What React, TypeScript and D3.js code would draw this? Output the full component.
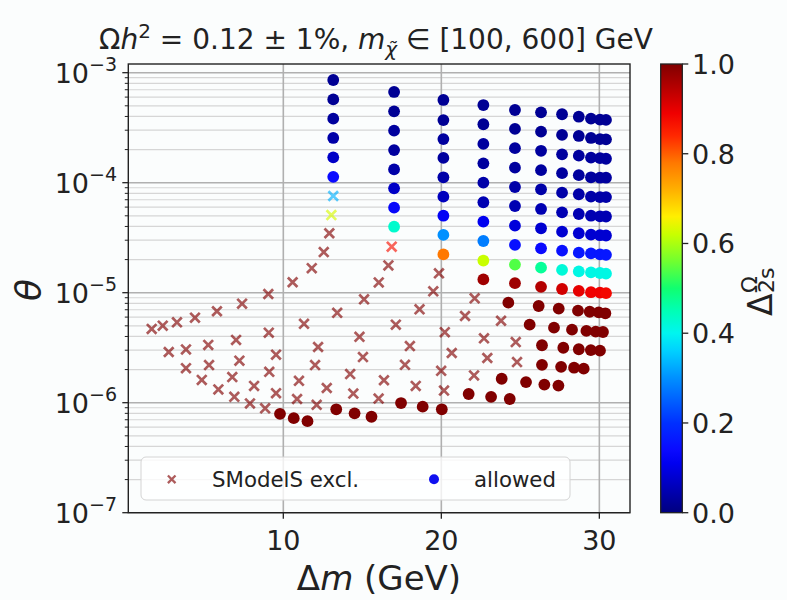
import React from 'react';
import * as d3 from 'd3';

// ---- tick values ----
const xTicks = [10, 20, 30];
const yTickExps = [-3, -4, -5, -6, -7];
const cbTicks = [0, 0.2, 0.4, 0.6, 0.8, 1.0];

// ---- colormap (jet-like) ----
const cmapPos = [0, 0.11, 0.14, 0.2, 0.3, 0.36, 0.4, 0.45, 0.5, 0.56, 0.62, 0.66, 0.72, 0.78, 0.84, 0.89, 1];
const cmapCol = ['#00007f', '#0000f0', '#0a0aff', '#0030ff', '#0090ff', '#00d0ff', '#00f5f0', '#00ffb5', '#10ff70', '#70ff30', '#c8ff00', '#ffef00', '#ffb000', '#ff7800', '#ff2800', '#f00000', '#800000'];

// ---- SModelS excluded points: [Δm (GeV), θ, Δ2s] ----
const excluded: [number, number, number][] = [
  [1.67, 4.68e-6, 1], [2.37, 5.01e-6, 1], [3.27, 5.38e-6, 1], [4.41, 5.93e-6, 1], [5.80, 6.78e-6, 1], [7.39, 7.94e-6, 1], [9.05, 9.73e-6, 1], [10.59, 1.245e-5, 1], [11.80, 1.67e-5, 1], [12.56, 2.34e-5, 1], [12.91, 3.47e-5, 1], [13.04, 5.08e-5, 0.63], [13.16, 7.57e-5, 0.33],
  [2.75, 2.89e-6, 1], [3.84, 3.05e-6, 1], [5.25, 3.35e-6, 1], [7.01, 3.72e-6, 1], [9.08, 4.33e-6, 1], [11.31, 5.21e-6, 1], [13.41, 6.56e-6, 1], [15.11, 8.71e-6, 1], [16.04, 1.24e-5, 1], [16.65, 1.77e-5, 1], [16.86, 2.62e-5, 0.87],
  [3.84, 2.06e-6, 1], [5.30, 2.20e-6, 1], [7.22, 2.41e-6, 1], [9.54, 2.73e-6, 1], [12.20, 3.21e-6, 1], [14.82, 3.97e-6, 1], [17.12, 5.12e-6, 1], [18.62, 7.06e-6, 1], [19.49, 1.03e-5, 1], [19.85, 1.50e-5, 1],
  [4.84, 1.61e-6, 1], [6.77, 1.71e-6, 1], [9.11, 1.91e-6, 1], [12.01, 2.20e-6, 1], [15.04, 2.60e-6, 1], [18.01, 3.27e-6, 1], [20.22, 4.38e-6, 1], [21.50, 6.14e-6, 1], [22.11, 8.89e-6, 1],
  [5.89, 1.32e-6, 1], [8.15, 1.42e-6, 1], [10.99, 1.58e-6, 1], [14.23, 1.82e-6, 1], [17.70, 2.21e-6, 1], [20.66, 2.83e-6, 1], [23.78, 5.56e-6, 1],
  [6.90, 1.13e-6, 1], [9.54, 1.22e-6, 1], [12.75, 1.36e-6, 1], [16.37, 1.60e-6, 1], [19.99, 1.95e-6, 1], [22.70, 3.85e-6, 1],
  [7.89, 9.84e-7, 1], [10.87, 1.08e-6, 1], [14.43, 1.21e-6, 1], [18.38, 1.42e-6, 1], [22.91, 2.55e-6, 1], [24.71, 3.56e-6, 1],
  [8.85, 8.89e-7, 1], [12.11, 9.57e-7, 1], [16.03, 1.09e-6, 1], [20.17, 1.29e-6, 1], [22.07, 1.77e-6, 1], [24.79, 2.34e-6, 1],
];

// ---- allowed points: [Δm (GeV), θ, Δ2s] ----
const allowed: [number, number, number][] = [
  [13.16, 8.58e-4, 0.02], [13.16, 5.72e-4, 0.02], [13.16, 3.82e-4, 0.03], [13.16, 2.55e-4, 0.04], [13.16, 1.70e-4, 0.07], [13.16, 1.13e-4, 0.14],
  [17.01, 6.68e-4, 0.02], [17.01, 4.45e-4, 0.02], [17.01, 2.97e-4, 0.03], [17.01, 1.98e-4, 0.03], [17.01, 1.32e-4, 0.04], [17.01, 8.89e-5, 0.07], [17.01, 5.93e-5, 0.13], [17.01, 3.98e-5, 0.43],
  [20.13, 5.65e-4, 0.02], [20.13, 3.71e-4, 0.02], [20.13, 2.49e-4, 0.03], [20.13, 1.68e-4, 0.03], [20.13, 1.12e-4, 0.04], [20.13, 7.46e-5, 0.06], [20.13, 5.01e-5, 0.12], [20.13, 3.35e-5, 0.30], [20.13, 2.23e-5, 0.78],
  [22.66, 5.08e-4, 0.02], [22.66, 3.40e-4, 0.02], [22.66, 2.25e-4, 0.03], [22.66, 1.50e-4, 0.03], [22.66, 1.00e-4, 0.04], [22.66, 6.64e-5, 0.05], [22.66, 4.42e-5, 0.11], [22.66, 2.95e-5, 0.28], [22.66, 1.96e-5, 0.62], [22.66, 1.32e-5, 0.97],
  [24.66, 4.58e-4, 0.02], [24.66, 3.08e-4, 0.02], [24.66, 2.06e-4, 0.03], [24.66, 1.37e-4, 0.03], [24.66, 9.14e-5, 0.04], [24.66, 6.14e-5, 0.05], [24.66, 4.07e-5, 0.09], [24.66, 2.72e-5, 0.15], [24.66, 1.80e-5, 0.54], [24.66, 1.22e-5, 0.97],
  [26.31, 4.36e-4, 0.02], [26.31, 2.91e-4, 0.02], [26.31, 1.95e-4, 0.03], [26.31, 1.30e-4, 0.03], [26.31, 8.71e-5, 0.04], [26.31, 5.77e-5, 0.05], [26.31, 3.85e-5, 0.08], [26.31, 2.53e-5, 0.14], [26.31, 1.69e-5, 0.47], [26.31, 1.13e-5, 0.95],
  [27.64, 4.19e-4, 0.02], [27.64, 2.72e-4, 0.02], [27.64, 1.81e-4, 0.03], [27.64, 1.22e-4, 0.03], [27.64, 8.11e-5, 0.04], [27.64, 5.38e-5, 0.05], [27.64, 3.59e-5, 0.08], [27.64, 2.41e-5, 0.15], [27.64, 1.61e-5, 0.42], [27.64, 1.08e-5, 0.92],
  [28.70, 3.98e-4, 0.02], [28.70, 2.66e-4, 0.02], [28.70, 1.76e-4, 0.03], [28.70, 1.17e-4, 0.03], [28.70, 7.85e-5, 0.04], [28.70, 5.19e-5, 0.05], [28.70, 3.47e-5, 0.08], [28.70, 2.31e-5, 0.16], [28.70, 1.56e-5, 0.41], [28.70, 1.04e-5, 0.90],
  [29.47, 3.82e-4, 0.02], [29.47, 2.55e-4, 0.02], [29.47, 1.69e-4, 0.03], [29.47, 1.12e-4, 0.03], [29.47, 7.46e-5, 0.04], [29.47, 5.01e-5, 0.05], [29.47, 3.37e-5, 0.08], [29.47, 2.28e-5, 0.16], [29.47, 1.53e-5, 0.41], [29.47, 1.01e-5, 0.89],
  [30.04, 3.75e-4, 0.02], [30.04, 2.49e-4, 0.02], [30.04, 1.67e-4, 0.03], [30.04, 1.11e-4, 0.03], [30.04, 7.40e-5, 0.04], [30.04, 4.95e-5, 0.05], [30.04, 3.33e-5, 0.08], [30.04, 2.23e-5, 0.16], [30.04, 1.51e-5, 0.41], [30.04, 1.00e-5, 0.89],
  [30.42, 3.72e-4, 0.02], [30.42, 2.48e-4, 0.02], [30.42, 1.65e-4, 0.03], [30.42, 1.11e-4, 0.03], [30.42, 7.40e-5, 0.04], [30.42, 4.93e-5, 0.05], [30.42, 3.31e-5, 0.08], [30.42, 2.21e-5, 0.16], [30.42, 1.49e-5, 0.41], [30.42, 9.90e-6, 0.88],
  [24.24, 8.11e-6, 1], [26.16, 7.57e-6, 1], [27.43, 7.16e-6, 1], [28.65, 6.86e-6, 1], [29.39, 6.71e-6, 1], [29.96, 6.63e-6, 1], [30.38, 6.50e-6, 1],
  [25.59, 5.12e-6, 1], [27.13, 4.81e-6, 1], [28.27, 4.61e-6, 1], [29.18, 4.49e-6, 1], [29.77, 4.42e-6, 1], [30.23, 4.39e-6, 1],
  [26.37, 3.33e-6, 1], [27.72, 3.16e-6, 1], [28.70, 3.06e-6, 1], [29.46, 3.01e-6, 1], [30.04, 2.97e-6, 1],
  [26.37, 2.21e-6, 1], [27.58, 2.12e-6, 1], [28.40, 2.08e-6, 1], [29.01, 2.04e-6, 1],
  [23.82, 1.65e-6, 1], [25.36, 1.54e-6, 1], [26.52, 1.46e-6, 1], [27.41, 1.43e-6, 1],
  [21.73, 1.20e-6, 1], [23.15, 1.13e-6, 1], [24.33, 1.08e-6, 1],
  [17.45, 9.93e-7, 1], [18.82, 9.20e-7, 1], [20.03, 8.71e-7, 1],
  [15.58, 7.45e-7, 1], [14.51, 8.01e-7, 1], [13.35, 8.71e-7, 1], [11.53, 6.79e-7, 1], [10.66, 7.23e-7, 1], [9.79, 7.92e-7, 1],
];

const legendLabels = ['SModelS excl.', 'allowed'];

const FONT = "'DejaVu Sans', sans-serif";

export default function App() {
  const W = 787, H = 600;
  const left = 128.3, right = 630, top = 64, bottom = 512.7;
  const x = d3.scaleLinear().domain([0.19, 31.94]).range([left, right]);
  const y = d3.scaleLog().domain([1e-7, Math.pow(10, -2.921)]).range([bottom, top]);
  const cmap = d3.scaleLinear<string>().domain(cmapPos).range(cmapCol).interpolate(d3.interpolateRgb).clamp(true);

  const cbL = 660.7, cbR = 682.3;
  const cbY = d3.scaleLinear().domain([0, 1]).range([bottom, top]);

  // minor log ticks
  const minor: number[] = [];
  for (let e = -7; e <= -3; e++) {
    for (let k = 2; k <= 9; k++) {
      const v = k * Math.pow(10, e);
      if (y(v) >= top) minor.push(v);
    }
  }

  const crossPath = (s: number) => `M${-s},${-s}L${s},${s}M${-s},${s}L${s},${-s}`;

  return (
    <svg width={W} height={H} style={{ position: 'absolute', left: 0, top: 0, background: '#fbfdfd' }} fontFamily={FONT}>
      <defs>
        <linearGradient id="cbgrad" x1="0" y1="1" x2="0" y2="0">
          {cmapPos.map((p, i) => (
            <stop key={i} offset={p} stopColor={cmapCol[i]} />
          ))}
        </linearGradient>
        <clipPath id="plotclip">
          <rect x={left} y={top} width={right - left} height={bottom - top} />
        </clipPath>
      </defs>
      <rect x={0} y={0} width={W} height={H} fill="#fbfdfd" />

      {/* grid */}
      <g>
        {minor.map((v, i) => (
          <line key={'mg' + i} x1={left} x2={right} y1={y(v)} y2={y(v)} stroke="#d6d6d6" strokeWidth={1.2} />
        ))}
        {yTickExps.map((e) => (
          <line key={'Mg' + e} x1={left} x2={right} y1={y(Math.pow(10, e))} y2={y(Math.pow(10, e))} stroke="#b0b0b0" strokeWidth={1.6} />
        ))}
        {xTicks.map((t) => (
          <line key={'xg' + t} x1={x(t)} x2={x(t)} y1={top} y2={bottom} stroke="#b0b0b0" strokeWidth={1.6} />
        ))}
      </g>

      {/* points */}
      <g clipPath="url(#plotclip)">
        {excluded.map((d, i) => (
          <path key={'ex' + i} d={crossPath(4.8)} transform={`translate(${x(d[0])},${y(d[1])})`}
            stroke={cmap(d[2])} strokeOpacity={0.64} strokeWidth={2.7} fill="none" />
        ))}
        {allowed.map((d, i) => (
          <circle key={'al' + i} cx={x(d[0])} cy={y(d[1])} r={5.9} fill={cmap(d[2])} />
        ))}
      </g>

      {/* legend */}
      <g>
        <rect x={141} y={457} width={429} height={43} rx={5} fill="#ffffff" fillOpacity={0.8} stroke="#d4d4d4" strokeWidth={1} />
        <path d={crossPath(3.8)} transform="translate(171.7,479.3)" stroke={cmap(1)} strokeOpacity={0.64} strokeWidth={2.3} fill="none" />
        <text x={212} y={486.5} fontSize={21.3} fill="#222">{legendLabels[0]}</text>
        <circle cx={434} cy={479.3} r={5} fill="#1010f0" />
        <text x={474} y={486.5} fontSize={21.3} fill="#222">{legendLabels[1]}</text>
      </g>

      {/* spines */}
      <rect x={left} y={top} width={right - left} height={bottom - top} fill="none" stroke="#222" strokeWidth={1.4} />

      {/* y ticks */}
      <g>
        {minor.map((v, i) => (
          <line key={'mt' + i} x1={left - 3.5} x2={left} y1={y(v)} y2={y(v)} stroke="#222" strokeWidth={1} />
        ))}
        {yTickExps.map((e) => (
          <g key={'yt' + e}>
            <line x1={left - 6} x2={left} y1={y(Math.pow(10, e))} y2={y(Math.pow(10, e))} stroke="#222" strokeWidth={1.3} />
            <text x={117} y={y(Math.pow(10, e)) + 10} textAnchor="end" fontSize={27} fill="#222">
              <tspan>10</tspan>
              <tspan dy={-12} fontSize={19}>{'\u2212' + Math.abs(e)}</tspan>
            </text>
          </g>
        ))}
      </g>

      {/* x ticks */}
      <g>
        {xTicks.map((t) => (
          <g key={'xt' + t}>
            <line x1={x(t)} x2={x(t)} y1={bottom} y2={bottom + 6} stroke="#222" strokeWidth={1.3} />
            <text x={x(t)} y={550} textAnchor="middle" fontSize={27} fill="#222">{t}</text>
          </g>
        ))}
      </g>

      {/* axis labels */}
      <text x={379} y={590} textAnchor="middle" fontSize={34} fill="#222">
        <tspan>Δ</tspan><tspan fontStyle="italic">m</tspan><tspan> (GeV)</tspan>
      </text>
      <text transform="translate(41,290) rotate(-90)" textAnchor="middle" fontSize={36} fontStyle="italic" fill="#222">θ</text>

      {/* title */}
      <text x={376} y={49} textAnchor="middle" fontSize={28} fill="#222">
        <tspan>Ω</tspan>
        <tspan fontStyle="italic">h</tspan>
        <tspan dy={-11} fontSize={20}>2</tspan>
        <tspan dy={11}>{' = 0.12 ± 1%, '}</tspan>
        <tspan fontStyle="italic">m</tspan>
        <tspan dy={7} fontSize={20} fontStyle="italic">{'χ\u0303'}</tspan>
        <tspan dy={-7}>{' ∈ [100, 600] GeV'}</tspan>
      </text>

      {/* colorbar */}
      <rect x={cbL} y={top} width={cbR - cbL} height={bottom - top} fill="url(#cbgrad)" stroke="#222" strokeWidth={1.3} />
      {cbTicks.map((t) => (
        <g key={'cb' + t}>
          <line x1={cbR} x2={cbR + 6} y1={cbY(t)} y2={cbY(t)} stroke="#222" strokeWidth={1.3} />
          <text x={692} y={cbY(t) + 10} fontSize={27} fill="#222">{t.toFixed(1)}</text>
        </g>
      ))}
      <g transform="translate(760,289) rotate(-90)">
        <text x={-27} y={12} fontSize={33} fill="#222">Δ</text>
        <text x={-4} y={-3} fontSize={22} fill="#222">Ω</text>
        <text x={-4} y={14} fontSize={22} fill="#222">2s</text>
      </g>
    </svg>
  );
}
